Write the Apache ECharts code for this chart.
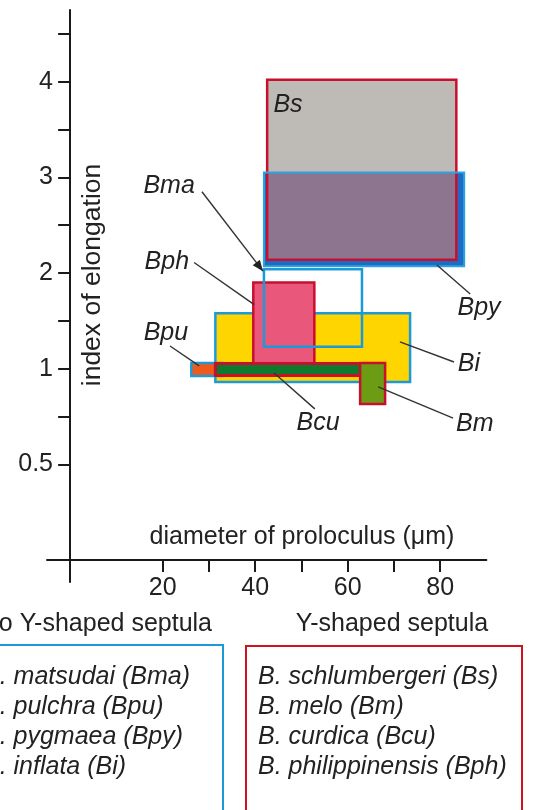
<!DOCTYPE html>
<html><head><meta charset="utf-8">
<script src="https://cdn.jsdelivr.net/npm/echarts@6/dist/echarts.min.js"></script>
<style>html,body{margin:0;padding:0;background:#fff}#c{width:543px;height:810px}</style>
</head><body><div id="c"></div>
<script>
// ---------- data ----------
const species  = ['Bs',  'Bpy', 'Bma', 'Bi',  'Bph', 'Bpu', 'Bcu', 'Bm'];
const diamMin  = [42.6,  41.9,  41.9,  31.4,  39.6,  26.2,  31.4,  62.7];
const diamMax  = [83.5,  85.2,  63.1,  73.5,  52.8,  33.0,  63.1,  68.1];
const elongMin = [2.14,  2.07,  1.23,  0.93,  1.04,  0.962, 0.965, 0.815];
const elongMax = [4.02,  3.05,  2.04,  1.58,  1.90,  1.06,  1.055, 1.06];

const xTickValues  = [20, 30, 40, 50, 60, 70, 80];
const xLabelValues = [20, 40, 60, 80];
const yTickValues  = [0.5, 0.75, 1, 1.5, 2, 2.5, 3, 3.5, 4, 4.5];
const yLabelValues = [0.5, 1, 2, 3, 4];

const groupTitles = ['No Y-shaped septula', 'Y-shaped septula'];
const noYSpecies = ['B. matsudai (Bma)', 'B. pulchra (Bpu)', 'B. pygmaea (Bpy)', 'B. inflata (Bi)'];
const ySpecies   = ['B. schlumbergeri (Bs)', 'B. melo (Bm)', 'B. curdica (Bcu)', 'B. philippinensis (Bph)'];

// annotation anchors (data units)
const annoNames  = ['Bs', 'Bma', 'Bph', 'Bpu', 'Bcu', 'Bm', 'Bi', 'Bpy'];
const annoLabelX = [47.1, 21.4, 20.9, 20.7, 53.6, 87.5, 86.2, 88.4];
const annoLabelY = [3.76, 2.91, 2.11, 1.373, 0.716, 0.71, 1.05, 1.634];
const annoFromX  = [null, 28.5, 26.8, 21.6, 52.9, 82.8, 83.0, 86.5];
const annoFromY  = [null, 2.85, 2.11, 1.237, 0.79, 0.742, 1.07, 1.78];
const annoToX    = [null, 41.7, 39.8, 27.9, 44.1, 66.6, 71.3, 79.3];
const annoToY    = [null, 2.02, 1.67, 1.03, 0.978, 0.905, 1.28, 2.084];

// ---------- styles ----------
const FONT = '"Liberation Sans", Arial, Helvetica, sans-serif';
const TXT = '#222';
const RED = '#c8102e', CYAN = '#1c9ad8';
const boxStyle = {
  Bs:  {fill: '#bebbb7', stroke: RED,  lw: 2.5},
  Bpy: {fill: '#1b6cc2', stroke: '#2ba3e3', lw: 2},
  Bma: {fill: 'none',    stroke: CYAN, lw: 2.5},
  Bi:  {fill: '#ffd500', stroke: CYAN, lw: 2.5},
  Bph: {fill: '#e9577b', stroke: RED,  lw: 2.5},
  Bpu: {fill: '#ef5a1c', stroke: CYAN, lw: 2.5},
  Bcu: {fill: '#0d7a2e', stroke: RED,  lw: 3},
  Bm:  {fill: '#6c9c14', stroke: RED,  lw: 2.5}
};
const overlapFill = '#8d7590';

// broken y scale: linear above 1, doubled below 1
function ty(v) { return v >= 1 ? v + 1 : 2 * v; }
function untY(t) { return t >= 2 ? t - 1 : t / 2; }

const idx = n => species.indexOf(n);
// draw layers
const layers = [
  {sp: 'Bpy', part: 'fill'},
  {sp: 'Bs',  part: 'fill'},
  {sp: 'Bs',  part: 'overlap', other: 'Bpy'},
  {sp: 'Bs',  part: 'stroke'},
  {sp: 'Bpy', part: 'stroke'},
  {sp: 'Bi',  part: 'both'},
  {sp: 'Bph', part: 'both'},
  {sp: 'Bma', part: 'both'},
  {sp: 'Bpu', part: 'both'},
  {sp: 'Bcu', part: 'both'},
  {sp: 'Bm',  part: 'both'}
];
const boxData = layers.map(L => {
  const i = idx(L.sp);
  let x0 = diamMin[i], x1 = diamMax[i], y0 = elongMin[i], y1 = elongMax[i];
  if (L.part === 'overlap') {
    const j = idx(L.other);
    x0 = Math.max(x0, diamMin[j]); x1 = Math.min(x1, diamMax[j]);
    y0 = Math.max(y0, elongMin[j]); y1 = Math.min(y1, elongMax[j]);
  }
  return [x0, x1, ty(y0), ty(y1)];
});

const chart = echarts.init(document.getElementById('c'), null, {renderer: 'canvas'});

const option = {
  animation: false,
  backgroundColor: '#fff',
  grid: {left: 47, top: 10, width: 439.4, height: 572, containLabel: false, outerBoundsMode: 'none'},
  xAxis: {
    type: 'value', min: -5, max: 90,
    axisLine: {onZero: true, lineStyle: {color: '#1a1a1a', width: 2}},
    axisTick: {show: true, customValues: xTickValues, length: 12, lineStyle: {color: '#1a1a1a', width: 2}},
    axisLabel: {customValues: xLabelValues, fontSize: 25, color: TXT, fontFamily: FONT, margin: -6},
    splitLine: {show: false}
  },
  yAxis: {
    type: 'value', min: -0.23, max: 5.75,
    axisLine: {onZero: true, lineStyle: {color: '#1a1a1a', width: 2}},
    axisTick: {show: true, customValues: yTickValues.map(ty), length: 12, lineStyle: {color: '#1a1a1a', width: 2}},
    axisLabel: {customValues: yLabelValues.map(ty), fontSize: 25, color: TXT, fontFamily: FONT, margin: -6,
      formatter: v => String(Math.round(untY(v) * 100) / 100)},
    splitLine: {show: false}
  },
  series: [
    {
      type: 'custom', name: 'boxes', clip: false,
      encode: {x: [0, 1], y: [2, 3]},
      data: boxData,
      renderItem: function (params, api) {
        const L = layers[params.dataIndex];
        const st = boxStyle[L.sp];
        const p0 = api.coord([api.value(0), api.value(3)]);
        const p1 = api.coord([api.value(1), api.value(2)]);
        const shape = {x: p0[0], y: p0[1], width: p1[0] - p0[0], height: p1[1] - p0[1]};
        let style;
        if (L.part === 'fill') style = {fill: st.fill, stroke: null, lineWidth: 0};
        else if (L.part === 'stroke') style = {fill: null, stroke: st.stroke, lineWidth: st.lw};
        else if (L.part === 'overlap') style = {fill: overlapFill, stroke: null, lineWidth: 0};
        else style = {fill: st.fill === 'none' ? null : st.fill, stroke: st.stroke, lineWidth: st.lw};
        return {type: 'rect', shape: shape, style: style};
      }
    },
    {
      type: 'custom', name: 'labels', clip: false,
      data: annoNames.map((n, i) => [annoLabelX[i], ty(annoLabelY[i])]),
      renderItem: function (params, api) {
        const i = params.dataIndex;
        const p = api.coord([api.value(0), api.value(1)]);
        const children = [{
          type: 'text', x: p[0], y: p[1],
          style: {text: annoNames[i], fontSize: 25, fontStyle: 'italic', fontFamily: FONT, fill: TXT,
                  align: 'center', verticalAlign: 'middle'}
        }];
        if (annoFromX[i] !== null) {
          const a = api.coord([annoFromX[i], ty(annoFromY[i])]);
          const b = api.coord([annoToX[i], ty(annoToY[i])]);
          children.push({type: 'line', shape: {x1: a[0], y1: a[1], x2: b[0], y2: b[1]},
                         style: {stroke: '#333', lineWidth: 1.4}});
          if (annoNames[i] === 'Bma') {
            const ang = Math.atan2(b[1] - a[1], b[0] - a[0]);
            const len = 11, w = 4.5;
            const bx = b[0] - len * Math.cos(ang), by = b[1] - len * Math.sin(ang);
            children.push({type: 'polygon', shape: {points: [
              [b[0], b[1]],
              [bx + w * Math.sin(ang), by - w * Math.cos(ang)],
              [bx - w * Math.sin(ang), by + w * Math.cos(ang)]
            ]}, style: {fill: '#222'}});
          }
        }
        return {type: 'group', children: children};
      }
    }
  ],
  graphic: [
    {type: 'text', x: 302, y: 537, style: {text: 'diameter of proloculus (\u03bcm)', fontSize: 25, fontFamily: FONT, fill: TXT, align: 'center', verticalAlign: 'middle'}},
    {type: 'text', x: 93, y: 275, rotation: Math.PI / 2, style: {text: 'index of elongation', fontSize: 26.5, fontFamily: FONT, fill: TXT, align: 'center', verticalAlign: 'middle'}},
    {type: 'text', x: 212, y: 624, style: {text: groupTitles[0], fontSize: 25, fontFamily: FONT, fill: TXT, align: 'right', verticalAlign: 'middle'}},
    {type: 'text', x: 392, y: 624, style: {text: groupTitles[1], fontSize: 25, fontFamily: FONT, fill: TXT, align: 'center', verticalAlign: 'middle'}},
    {type: 'rect', shape: {x: -29, y: 645, width: 252, height: 220}, style: {fill: null, stroke: CYAN, lineWidth: 2}},
    {type: 'rect', shape: {x: 246, y: 646, width: 276, height: 220}, style: {fill: null, stroke: '#d0121e', lineWidth: 2}}
  ].concat(
    noYSpecies.map((t, k) => ({type: 'text', x: -17, y: 677 + 30 * k,
      style: {text: t, fontSize: 25, fontStyle: 'italic', fontFamily: FONT, fill: TXT, align: 'left', verticalAlign: 'middle'}})),
    ySpecies.map((t, k) => ({type: 'text', x: 258, y: 677 + 30 * k,
      style: {text: t, fontSize: 25, fontStyle: 'italic', fontFamily: FONT, fill: TXT, align: 'left', verticalAlign: 'middle'}}))
  )
};
chart.setOption(option);
</script>
</body></html>
